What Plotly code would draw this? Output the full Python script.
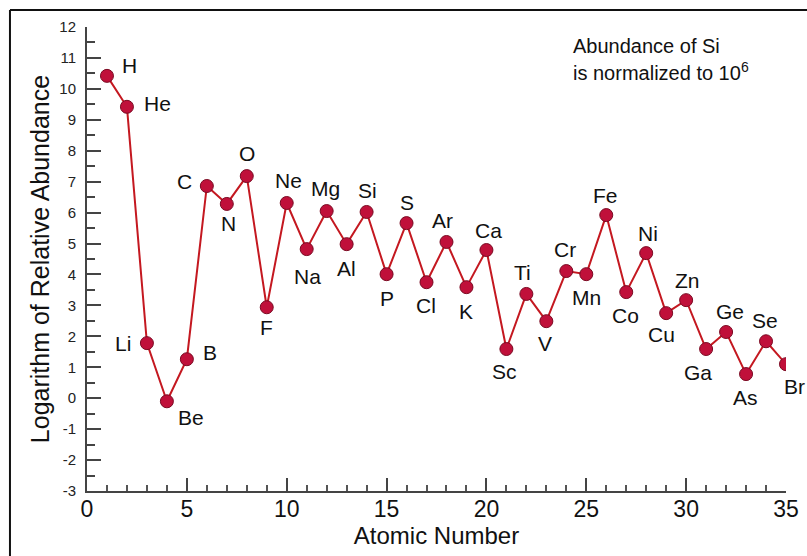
import plotly.graph_objects as go

# ---- data ----
atomic_number = list(range(1, 36))
elements = ["H", "He", "Li", "Be", "B", "C", "N", "O", "F", "Ne",
            "Na", "Mg", "Al", "Si", "P", "S", "Cl", "Ar", "K", "Ca",
            "Sc", "Ti", "V", "Cr", "Mn", "Fe", "Co", "Ni", "Cu", "Zn",
            "Ga", "Ge", "As", "Se", "Br"]
log_abundance = [10.42, 9.42, 1.78, -0.1, 1.26, 6.86, 6.28, 7.18, 2.94, 6.31,
                 4.82, 6.05, 4.98, 6.02, 4.01, 5.66, 3.75, 5.05, 3.59, 4.79,
                 1.59, 3.37, 2.49, 4.11, 4.01, 5.92, 3.43, 4.69, 2.75, 3.17,
                 1.59, 2.14, 0.78, 1.84, 1.10]
x_ticks = [0, 5, 10, 15, 20, 25, 30, 35]
x_tick_labels = ["0", "5", "10", "15", "20", "25", "30", "35"]
y_ticks = list(range(-3, 13))
y_tick_labels = [str(v) for v in y_ticks]

# label offsets in screen pixels (dx right, dy down) -- styling only
label_offsets = {
    "H": (23, -10), "He": (31, -3), "Li": (-24, 0), "Be": (24, 16), "B": (23, -7),
    "C": (-22, -5), "N": (2, 20), "O": (0, -23), "F": (0, 20), "Ne": (2, -23),
    "Na": (1, 27), "Mg": (-1, -23), "Al": (0, 24), "Si": (1, -21), "P": (0, 24),
    "S": (0, -21), "Cl": (-1, 23), "Ar": (-4, -21), "K": (0, 24), "Ca": (2, -20),
    "Sc": (-2, 22), "Ti": (-4, -21), "V": (-1, 22), "Cr": (-1, -22), "Mn": (0, 23),
    "Fe": (-1, -20), "Co": (-1, 23), "Ni": (2, -20), "Cu": (-5, 21), "Zn": (1, -20),
    "Ga": (-8, 23), "Ge": (4, -21), "As": (-1, 23), "Se": (-1, -21), "Br": (8, 22),
}

FONT = "Liberation Sans, Arial, sans-serif"

fig = go.Figure()
fig.add_trace(go.Scatter(
    x=atomic_number, y=log_abundance, mode="lines+markers",
    line=dict(color="#c41820", width=2),
    marker=dict(symbol="circle", size=13, color="#c0103a",
                line=dict(color="#7a0a22", width=1)),
    hoverinfo="x+y", showlegend=False,
))

annotations = []
for xv, yv, name in zip(atomic_number, log_abundance, elements):
    dx, dy = label_offsets[name]
    annotations.append(dict(
        x=xv, y=yv, xref="x", yref="y", text=name, showarrow=False,
        xshift=dx, yshift=-dy, xanchor="center", yanchor="middle",
        font=dict(family=FONT, size=21, color="#111"),
    ))

annotations.append(dict(
    x=0.692, y=0.958, xref="paper", yref="paper", text="Abundance of Si",
    showarrow=False, xanchor="left", yanchor="middle",
    font=dict(family=FONT, size=20, color="#111"),
))
annotations.append(dict(
    x=0.692, y=0.905, xref="paper", yref="paper",
    text="is normalized to 10<sup>6</sup>",
    showarrow=False, xanchor="left", yanchor="middle",
    font=dict(family=FONT, size=20, color="#111"),
))

fig.update_layout(
    width=807, height=556,
    margin=dict(l=87, r=21, t=27, b=65, autoexpand=False),
    paper_bgcolor="white", plot_bgcolor="white",
    font=dict(family=FONT, color="#111"),
    annotations=annotations,
    xaxis=dict(
        range=[0, 35], tickvals=x_ticks, ticktext=x_tick_labels,
        ticks="inside", ticklen=13, tickwidth=2,
        tickcolor="#444", showline=True, linecolor="#444", linewidth=2,
        showgrid=False, zeroline=False, automargin=False,
        tickfont=dict(family=FONT, size=23, color="#111"),
        ticklabelstandoff=-4,
        minor=dict(dtick=1, ticks="inside", ticklen=6, tickwidth=2, tickcolor="#555", showgrid=False),
        title=dict(text="Atomic Number", font=dict(family=FONT, size=24, color="#111"), standoff=0),
    ),
    yaxis=dict(
        range=[-3, 12], tickvals=y_ticks, ticktext=y_tick_labels,
        ticks="inside", ticklen=14, tickwidth=2,
        tickcolor="#444", showline=True, linecolor="#444", linewidth=2,
        showgrid=False, zeroline=False, automargin=False,
        tickfont=dict(family=FONT, size=15, color="#222"),
        ticklabelstandoff=6,
        minor=dict(dtick=0.5, ticks="inside", ticklen=8, tickwidth=2, tickcolor="#444", showgrid=False),
        title=dict(text="Logarithm of Relative Abundance", font=dict(family=FONT, size=25, color="#111"), standoff=3),
    ),
    shapes=[
        dict(type="line", xref="paper", yref="paper", x0=-0.1102, x1=1.1, y0=1.0366, y1=1.0366,
             line=dict(color="#111", width=2)),
        dict(type="line", xref="paper", yref="paper", x0=-0.1102, x1=-0.1102, y0=-0.2, y1=1.0366,
             line=dict(color="#111", width=2)),
    ],
)

# remove the default 8px page margin so the figure fills the 807x556 window exactly
fig.write_html("out.html",
               config={"displayModeBar": False},
               post_script="document.body.style.margin='0';document.body.style.overflow='hidden';")
